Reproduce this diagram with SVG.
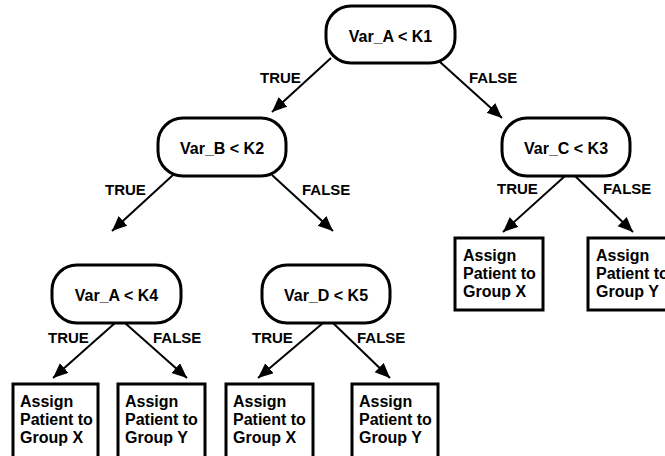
<svg xmlns="http://www.w3.org/2000/svg" width="665" height="456" viewBox="0 0 665 456">
<style>
.dec{fill:#fff;stroke:#000;stroke-width:3}
.leaf{fill:#fff;stroke:#000;stroke-width:3}
.t{font-family:"Liberation Sans",Arial,sans-serif;font-weight:bold;font-size:16px;fill:#000}
.c{text-anchor:middle}
.lbl{font-family:"Liberation Sans",Arial,sans-serif;font-weight:bold;font-size:15px;fill:#000}
.e{stroke:#000;stroke-width:2;fill:none;marker-end:url(#ah)}
</style>
<defs>
<marker id="ah" markerUnits="userSpaceOnUse" markerWidth="16" markerHeight="14" refX="15" refY="6.5" orient="auto">
<path d="M0,0 L15,6.5 L0,13 z" fill="#000"/>
</marker>
</defs>
<g id="connectors">
<line class="e" x1="331" y1="58" x2="272" y2="112"/>
<line class="e" x1="440" y1="62" x2="502" y2="118"/>
<line class="e" x1="173" y1="175" x2="112" y2="231"/>
<line class="e" x1="272" y1="175" x2="333" y2="231"/>
<line class="e" x1="565" y1="176" x2="503" y2="232"/>
<line class="e" x1="575" y1="176" x2="633" y2="232"/>
<line class="e" x1="115" y1="323" x2="53" y2="378"/>
<line class="e" x1="125" y1="323" x2="187" y2="378"/>
<line class="e" x1="323" y1="323" x2="258" y2="378"/>
<line class="e" x1="333" y1="323" x2="390" y2="378"/>
</g>
<g id="labels">
<text class="lbl" x="260" y="83">TRUE</text>
<text class="lbl" x="469" y="83">FALSE</text>
<text class="lbl" x="105" y="195">TRUE</text>
<text class="lbl" x="302" y="195">FALSE</text>
<text class="lbl" x="497" y="194">TRUE</text>
<text class="lbl" x="603" y="194">FALSE</text>
<text class="lbl" x="48" y="343">TRUE</text>
<text class="lbl" x="153" y="343">FALSE</text>
<text class="lbl" x="252" y="343">TRUE</text>
<text class="lbl" x="357" y="343">FALSE</text>
</g>
<g id="n1"><rect class="dec" x="326" y="6" width="129" height="57" rx="25"/><text class="t c" x="390.5" y="42">Var_A &lt; K1</text></g>
<g id="n2"><rect class="dec" x="158" y="118" width="128" height="58" rx="25"/><text class="t c" x="222" y="154">Var_B &lt; K2</text></g>
<g id="n3"><rect class="dec" x="502" y="118" width="128" height="58" rx="25"/><text class="t c" x="566" y="154">Var_C &lt; K3</text></g>
<g id="n4"><rect class="dec" x="52" y="265" width="129" height="58" rx="25"/><text class="t c" x="116.5" y="301">Var_A &lt; K4</text></g>
<g id="n5"><rect class="dec" x="262" y="265" width="128" height="58" rx="25"/><text class="t c" x="326" y="301">Var_D &lt; K5</text></g>
<g id="l1"><rect class="leaf" x="13" y="384" width="85" height="80"/><text class="t" x="20" y="407">Assign<tspan x="20" y="425">Patient to</tspan><tspan x="20" y="443">Group X</tspan></text></g>
<g id="l2"><rect class="leaf" x="118" y="384" width="87" height="80"/><text class="t" x="125" y="407">Assign<tspan x="125" y="425">Patient to</tspan><tspan x="125" y="443">Group Y</tspan></text></g>
<g id="l3"><rect class="leaf" x="226" y="384" width="87" height="80"/><text class="t" x="233" y="407">Assign<tspan x="233" y="425">Patient to</tspan><tspan x="233" y="443">Group X</tspan></text></g>
<g id="l4"><rect class="leaf" x="352" y="384" width="86" height="80"/><text class="t" x="359" y="407">Assign<tspan x="359" y="425">Patient to</tspan><tspan x="359" y="443">Group Y</tspan></text></g>
<g id="l5"><rect class="leaf" x="455" y="238" width="88" height="72"/><text class="t" x="463" y="261">Assign<tspan x="463" y="279">Patient to</tspan><tspan x="463" y="297">Group X</tspan></text></g>
<g id="l6"><rect class="leaf" x="588" y="238" width="88" height="72"/><text class="t" x="596" y="261">Assign<tspan x="596" y="279">Patient to</tspan><tspan x="596" y="297">Group Y</tspan></text></g>
</svg>
